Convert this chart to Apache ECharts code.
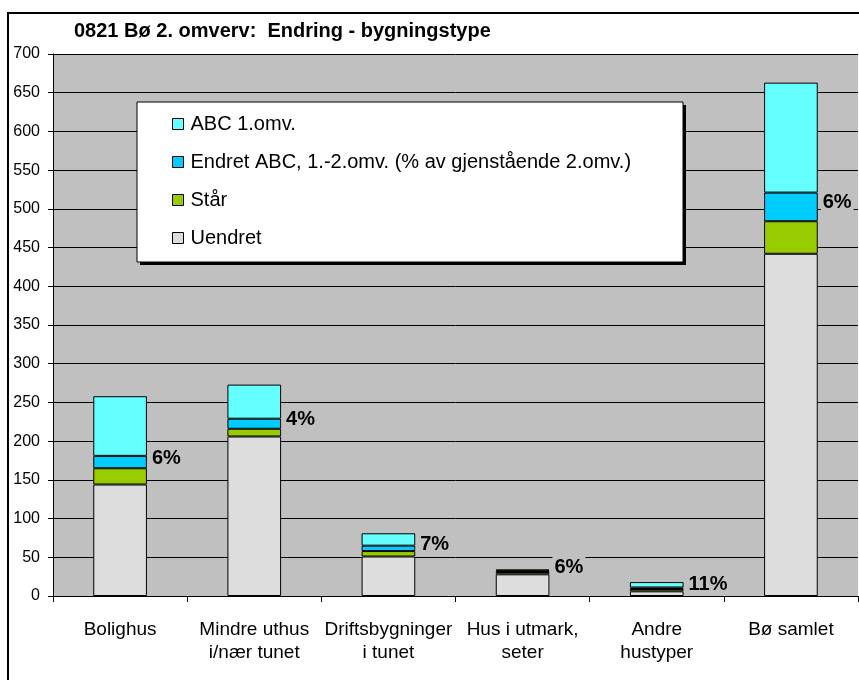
<!DOCTYPE html>
<html>
<head>
<meta charset="utf-8">
<title>0821 Bø 2. omverv</title>
<script src="https://cdn.jsdelivr.net/npm/echarts@6/dist/echarts.min.js"></script>
<style>
  html, body { margin: 0; padding: 0; background: #fff; }
  #chart { width: 859px; height: 680px; }
</style>
</head>
<body>
<div id="chart"></div>
<script>
// data
const categories = ['Bolighus', 'Mindre uthus\ni/nær tunet', 'Driftsbygninger\ni tunet', 'Hus i utmark,\nseter', 'Andre\nhustyper', 'Bø samlet']
const uendret = [144, 206, 51, 28, 6, 442]
const staar = [21, 10, 7, 3, 3, 42]
const endret = [16, 13, 7, 2, 2, 37]
const abc1 = [77, 44, 16, 1, 7, 142]
const pctLabels = ['6%', '4%', '7%', '6%', '11%', '6%']
const yTicks = { min: 0, max: 700, interval: 50 }

const FONT = '"Liberation Sans", Arial, sans-serif'
const PLOT_BG = '#C0C0C0'

const chart = echarts.init(document.getElementById('chart'), null, { renderer: 'canvas' })

const barSeries = (name, data, color, extra) => Object.assign({
  name: name,
  type: 'bar',
  stack: 'tot',
  data: data,
  barWidth: '40%',
  itemStyle: { color: color, borderColor: '#000', borderWidth: 1 },
  emphasis: { disabled: true }
}, extra || {})

const option = {
  animation: false,
  backgroundColor: '#fff',
  textStyle: { fontFamily: FONT, color: '#000' },
  title: {
    text: '0821 Bø 2. omverv:  Endring - bygningstype',
    left: 74,
    top: 21,
    padding: 0,
    textStyle: { fontFamily: FONT, fontSize: 20, fontWeight: 'bold', color: '#000' }
  },
  grid: {
    left: 53, right: 1, top: 54, bottom: 84,
    show: true, backgroundColor: PLOT_BG, borderWidth: 0
  },
  legend: {
    orient: 'vertical',
    left: 172,
    top: 113,
    padding: 0,
    itemGap: 16,
    itemWidth: 11,
    itemHeight: 11,
    z: 10,
    selectedMode: false,
    icon: 'rect',
    itemStyle: { borderColor: '#000', borderWidth: 1 },
    textStyle: { fontFamily: FONT, fontSize: 20, color: '#000', lineHeight: 22, padding: [0, 0, 0, 2] },
    data: ['ABC 1.omv.', 'Endret ABC, 1.-2.omv. (% av gjenstående 2.omv.)', 'Står', 'Uendret']
  },
  graphic: [
    // outer chart frame (cut off at right and bottom in the original)
    { type: 'rect', z: 20, silent: true, shape: { x: 8, y: 13, width: 900, height: 720 },
      style: { fill: 'none', stroke: '#000', lineWidth: 2 } },
    // legend box with hard shadow
    { type: 'rect', z: 8, silent: true, shape: { x: 140, y: 105, width: 546, height: 160 },
      style: { fill: '#000' } },
    { type: 'rect', z: 9, silent: true, shape: { x: 137, y: 102, width: 546, height: 160 },
      style: { fill: '#fff', stroke: '#000', lineWidth: 1 } }
  ],
  xAxis: {
    type: 'category',
    data: categories,
    axisLine: { lineStyle: { color: '#000', width: 1 } },
    axisTick: { show: true, length: 6, lineStyle: { color: '#000' } },
    axisLabel: {
      interval: 0, margin: 22, fontSize: 19, lineHeight: 23,
      color: '#000', fontFamily: FONT
    },
    splitLine: { show: false }
  },
  yAxis: {
    type: 'value',
    min: yTicks.min,
    max: yTicks.max,
    interval: yTicks.interval,
    axisLine: { show: true, lineStyle: { color: '#000', width: 1 } },
    axisTick: { show: true, length: 5, lineStyle: { color: '#000' } },
    axisLabel: { margin: 13, fontSize: 16, color: '#000', fontFamily: FONT },
    splitLine: { show: true, lineStyle: { color: '#000', width: 1 } }
  },
  series: [
    barSeries('Uendret', uendret, '#DDDDDD'),
    barSeries('Står', staar, '#99CC00'),
    barSeries('Endret ABC, 1.-2.omv. (% av gjenstående 2.omv.)', endret, '#00CCFF', {
      label: {
        show: true,
        position: 'right',
        distance: 3,
        offset: [0, -4],
        formatter: (p) => pctLabels[p.dataIndex],
        fontFamily: FONT,
        fontSize: 20,
        fontWeight: 'bold',
        color: '#000',
        backgroundColor: PLOT_BG,
        padding: [2, 2, 1, 2]
      }
    }),
    barSeries('ABC 1.omv.', abc1, '#66FFFF')
  ]
}

chart.setOption(option)
</script>
</body>
</html>
